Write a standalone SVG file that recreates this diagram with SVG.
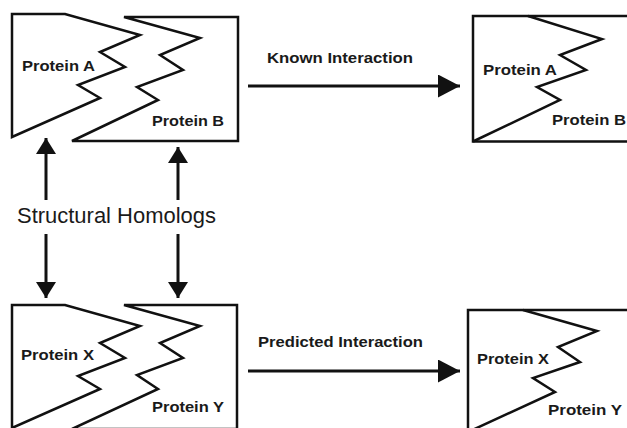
<svg xmlns="http://www.w3.org/2000/svg" width="627" height="428" viewBox="0 0 627 428">
<defs>
<style>
.shape{fill:none;stroke:#111;stroke-width:2.5;stroke-linejoin:miter}
.conn{fill:none;stroke:#111;stroke-width:3}
.lbl{font-family:"Liberation Sans",Arial,sans-serif;font-weight:bold;font-size:14px;fill:#1a1a1a}
.big{font-family:"Liberation Sans",Arial,sans-serif;font-size:22px;fill:#1a1a1a}
</style>
<marker id="hh" markerUnits="userSpaceOnUse" markerWidth="22" markerHeight="23" refX="22" refY="11.5" orient="auto">
<path d="M0,0 L22,11.5 L0,23 z" fill="#111"/>
</marker>
<marker id="hv" markerUnits="userSpaceOnUse" markerWidth="16" markerHeight="20" refX="16" refY="10" orient="auto">
<path d="M0,0 L16,10 L0,20 z" fill="#111"/>
</marker>
</defs>
<rect width="627" height="428" fill="#fff"/>

<g id="proteinA">
<polygon class="shape" points="12,14 65,14 140,35 100,52 125,67 78,85 100,98 12,137"/>
<text class="lbl" x="22" y="71" textLength="73" lengthAdjust="spacingAndGlyphs">Protein A</text>
</g>
<g id="proteinB">
<polygon class="shape" points="124,17 238,17 238,141 72,141 158,100 137,87 183,70 160,55 200,38"/>
<text class="lbl" x="152" y="126" textLength="72" lengthAdjust="spacingAndGlyphs">Protein B</text>
</g>
<g id="complexAB">
<polyline class="shape" points="640,16 473,16 473,141.5 640,141.5"/>
<polyline class="shape" points="528,16 602,39 560,55 586,70 537,87 560,100 473,141.5"/>
<text class="lbl" x="483" y="75" textLength="74" lengthAdjust="spacingAndGlyphs">Protein A</text>
<text class="lbl" x="552" y="125" textLength="74" lengthAdjust="spacingAndGlyphs">Protein B</text>
</g>
<g id="proteinX">
<polygon class="shape" points="12,305 65,305 140,326 100,343 125,358 78,376 100,389 12,428"/>
<text class="lbl" x="21" y="360" textLength="73" lengthAdjust="spacingAndGlyphs">Protein X</text>
</g>
<g id="proteinY">
<polygon class="shape" points="124,305 237,305 237,429 72,429 158,389 137,375 183,358 160,343 200,326"/>
<text class="lbl" x="152" y="412" textLength="72" lengthAdjust="spacingAndGlyphs">Protein Y</text>
</g>
<g id="complexXY">
<polyline class="shape" points="640,310 468,310 468,440"/>
<polyline class="shape" points="523,310 597,331 558,347 580,362 533,378 555,392 468,432"/>
<text class="lbl" x="477" y="364" textLength="72" lengthAdjust="spacingAndGlyphs">Protein X</text>
<text class="lbl" x="548" y="415" textLength="74" lengthAdjust="spacingAndGlyphs">Protein Y</text>
</g>

<g id="connectors">
<line class="conn" x1="248" y1="86" x2="460" y2="86" marker-end="url(#hh)"/>
<line class="conn" x1="248" y1="371" x2="460" y2="371" marker-end="url(#hh)"/>
<line class="conn" x1="46" y1="200" x2="46" y2="138" marker-end="url(#hv)"/>
<line class="conn" x1="178" y1="200" x2="178" y2="147" marker-end="url(#hv)"/>
<line class="conn" x1="46" y1="234" x2="46" y2="298" marker-end="url(#hv)"/>
<line class="conn" x1="178" y1="234" x2="178" y2="298" marker-end="url(#hv)"/>
</g>
<g id="labels">
<text class="lbl" x="267" y="63" textLength="146" lengthAdjust="spacingAndGlyphs">Known Interaction</text>
<text class="lbl" x="258" y="347" textLength="165" lengthAdjust="spacingAndGlyphs">Predicted Interaction</text>
<text class="big" x="17" y="223" textLength="199" lengthAdjust="spacingAndGlyphs">Structural Homologs</text>
</g>
</svg>
